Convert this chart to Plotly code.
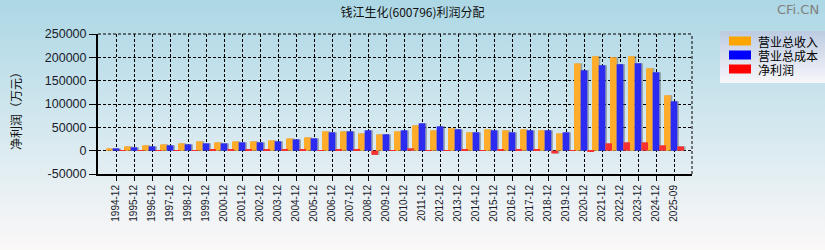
import base64
import plotly.graph_objects as go

categories = ["1994-12", "1995-12", "1996-12", "1997-12", "1998-12", "1999-12", "2000-12",
              "2001-12", "2002-12", "2003-12", "2004-12", "2005-12", "2006-12", "2007-12",
              "2008-12", "2009-12", "2010-12", "2011-12", "2012-12", "2013-12", "2014-12",
              "2015-12", "2016-12", "2017-12", "2018-12", "2019-12", "2020-12", "2021-12",
              "2022-12", "2023-12", "2024-12", "2025-09"]

revenue = [4900, 9200, 11400, 13500, 15700, 20000, 17800, 20000, 20000, 22100, 26400, 28500,
           41400, 41400, 37100, 35000, 41400, 54300, 43600, 47900, 39300, 45700, 43600, 45700,
           43600, 37100, 187000, 202400, 200200, 202400, 176600, 118700]

cost = [4900, 7100, 9200, 11400, 13500, 15700, 15700, 17800, 17800, 20000, 24200, 26400,
        39300, 41400, 43600, 35000, 43600, 58600, 52100, 45700, 39300, 43600, 39300, 43600,
        43600, 39300, 172300, 183000, 185200, 187300, 168000, 105800]

net_profit = [1000, 1000, 1200, 1000, 1200, 2000, 2500, 1500, 1500, 1500, 2800, 700,
              2800, 2800, -9000, 800, 5000, 1000, 800, 2800, 700, 2800, 2800, 2800,
              -6000, 1000, -1000, 15700, 17800, 17800, 11400, 9200]

series_names = ["营业总收入", "营业总成本", "净利润"]
legend_colors = ["#FFA500", "#0000FF", "#FF0000"]
bar_colors = ["#FFAC2A", "#2B2BF2", "#F83030"]

y_ticks = [-50000, 0, 50000, 100000, 150000, 200000, 250000]
title_text = "钱江生化(600796)利润分配"
y_title = "净利润（万元）"

W, H = 825, 250
L, R, T, B = 98, 133, 34, 76
PW, PH = W - L - R, H - T - B

FONT = "Liberation Sans, Arial, Noto Sans CJK SC, sans-serif"
CJK = "Noto Sans CJK SC, Liberation Sans, sans-serif"


def px_x(x):
    return (x - L) / PW


def px_y(y):
    return 1 - (y - T) / PH


def svg_uri(svg):
    return "data:image/svg+xml;base64," + base64.b64encode(svg.encode("utf-8")).decode("ascii")


bg_svg = ('<svg xmlns="http://www.w3.org/2000/svg" width="825" height="250" viewBox="0 0 825 250" '
          'preserveAspectRatio="none"><defs><linearGradient id="g" x1="0" y1="0" x2="0" y2="1">'
          '<stop offset="0" stop-color="#acd7e5"/><stop offset="1" stop-color="#fbf8f8"/>'
          '</linearGradient></defs><rect width="825" height="250" fill="url(#g)"/></svg>')
leg_svg = ('<svg xmlns="http://www.w3.org/2000/svg" width="105" height="52" viewBox="0 0 105 52" '
           'preserveAspectRatio="none"><defs><linearGradient id="g" x1="0" y1="0" x2="0" y2="1">'
           '<stop offset="0" stop-color="#bccbe2"/><stop offset="1" stop-color="#f8f7fa"/>'
           '</linearGradient></defs><rect width="105" height="52" fill="url(#g)"/></svg>')

fig = go.Figure()

width = 0.37
offsets = [-0.555, -0.185, 0.185]
values = [revenue, cost, net_profit]

# soft shadows (3D look)
for vals, off in zip(values, offsets):
    fig.add_trace(go.Bar(x=categories, y=vals, width=width, offset=off + 0.09,
                         marker=dict(color="rgba(90,90,90,0.45)", line=dict(width=0)),
                         showlegend=False, hoverinfo="skip"))

for name, vals, off, col in zip(series_names, values, offsets, bar_colors):
    fig.add_trace(go.Bar(x=categories, y=vals, name=name, width=width, offset=off,
                         marker=dict(color=col, line=dict(width=0)), showlegend=False))

shapes = [
    dict(type="line", xref="paper", yref="paper", x0=1, x1=1, y0=0, y1=1,
         line=dict(color="black", width=1, dash="3px,2px")),
    dict(type="line", xref="paper", yref="paper", x0=0, x1=1, y0=1, y1=1,
         line=dict(color="black", width=1, dash="3px,2px")),
]
annotations = [
    dict(text=y_title, xref="paper", yref="paper", x=px_x(15), y=px_y(108),
         textangle=-90, showarrow=False, xanchor="center", yanchor="middle",
         font=dict(family=CJK, size=12, color="#111")),
    dict(text="CFi.CN", xref="paper", yref="paper", x=px_x(821), y=px_y(10),
         showarrow=False, xanchor="right", yanchor="middle",
         font=dict(family="DejaVu Sans, sans-serif", size=13, color="#808080")),
]
row_y = [41, 55, 69]
for name, col, yc in zip(series_names, legend_colors, row_y):
    shapes.append(dict(type="rect", xref="paper", yref="paper",
                       x0=px_x(729), x1=px_x(751), y0=px_y(yc + 4.5), y1=px_y(yc - 4.5),
                       fillcolor=col, line=dict(width=0)))
    annotations.append(dict(text=name, xref="paper", yref="paper", x=px_x(756), y=px_y(yc),
                            showarrow=False, xanchor="left", yanchor="middle",
                            font=dict(family=CJK, size=12, color="#000")))

fig.update_layout(
    width=W, height=H,
    margin=dict(l=L, r=R, t=T, b=B, pad=0),
    paper_bgcolor="white",
    plot_bgcolor="rgba(0,0,0,0)",
    barmode="overlay",
    showlegend=False,
    title=dict(text=title_text, x=0.5, xref="container", y=1 - 13 / H, yref="container",
               xanchor="center", yanchor="middle",
               font=dict(family=CJK, size=12, color="#111")),
    images=[
        dict(source=svg_uri(bg_svg), xref="paper", yref="paper", x=px_x(0), y=px_y(0),
             sizex=W / PW, sizey=H / PH, xanchor="left", yanchor="top",
             sizing="stretch", layer="below"),
        dict(source=svg_uri(leg_svg), xref="paper", yref="paper", x=px_x(720), y=px_y(31),
             sizex=105 / PW, sizey=52 / PH, xanchor="left", yanchor="top",
             sizing="stretch", layer="below"),
    ],
    shapes=shapes,
    annotations=annotations,
    xaxis=dict(type="category", range=[-1, len(categories)],
               showgrid=True, gridcolor="black", gridwidth=1, griddash="3px,2px",
               showline=True, linecolor="black", linewidth=2,
               ticks="outside", ticklen=5, tickcolor="black", tickwidth=1,
               tickangle=-90, tickfont=dict(family=FONT, size=10, color="#1a1a2a"),
               zeroline=False),
    yaxis=dict(range=[-50000, 250000], tickvals=y_ticks, ticktext=[str(v) for v in y_ticks],
               showgrid=True, gridcolor="black", gridwidth=1, griddash="3px,2px",
               showline=True, linecolor="black", linewidth=2,
               ticks="outside", ticklen=7, tickcolor="black", tickwidth=1,
               tickfont=dict(family=FONT, size=12.5, color="#1a1a2a"),
               zeroline=False),
)

fig.write_html("out.html")
